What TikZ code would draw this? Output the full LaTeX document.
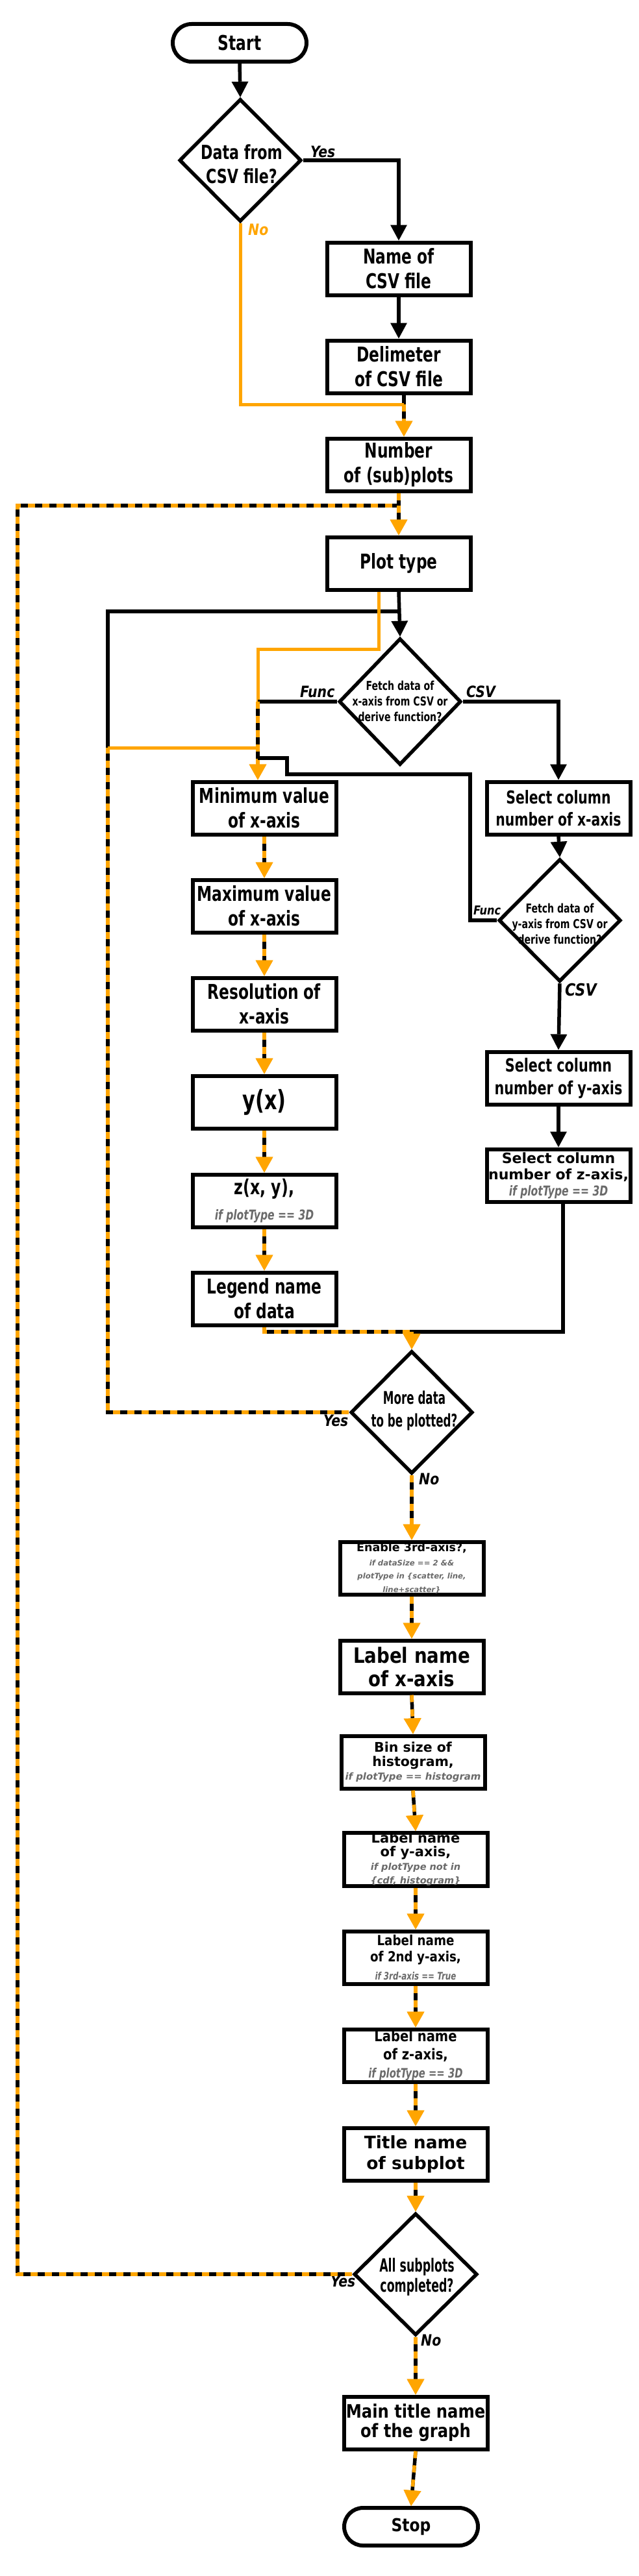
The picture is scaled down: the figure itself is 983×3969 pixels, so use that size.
\documentclass[tikz,border=0pt]{standalone}
\usepackage{fontspec}
\setmainfont{DejaVu Sans}
\newfontfamily\fA{DejaVu Sans}
\newfontfamily\fB[FakeStretch=0.85]{DejaVu Sans}
\newfontfamily\fC[FakeStretch=0.74]{DejaVu Sans}
\newfontfamily\fD[FakeStretch=0.62]{DejaVu Sans}
\newcommand\fsz[2]{\fontsize{#1}{#2}\selectfont}
\usetikzlibrary{arrows.meta,shapes.geometric,calc}
\definecolor{orng}{HTML}{FFA500}
\definecolor{cg}{HTML}{6A6A6A}
\newcommand\condA[2]{{\color{cg}\fA\bfseries\itshape\fsz{#1}{#1}#2}}
\newcommand\condC[2]{{\color{cg}\fC\bfseries\itshape\fsz{#1}{#1}#2}}
\lineskiplimit=-1000pt
\begin{document}
\begin{tikzpicture}[x=1pt,y=-1pt,
  box/.style={draw, line width=6pt, fill=white, minimum width=221pt, minimum height=81pt, inner sep=0pt, align=center},
  term/.style={draw, line width=6pt, fill=white, rounded corners=29pt, minimum width=206pt, minimum height=58pt, inner sep=0pt},
  dia/.style={draw, diamond, line width=5.5pt, fill=white, inner sep=0pt, minimum width=188pt, minimum height=189pt},
  dtext/.style={align=center, inner sep=0pt},
  lab/.style={anchor=base west, inner sep=0pt, font=\fB\bfseries\itshape\fsz{24}{28}},
  bline/.style={draw=black, line width=5.5pt},
  oline/.style={draw=orng, line width=5pt},
  mix/.style={draw=black, line width=5.5pt, postaction={draw=orng, line width=5.5pt, dash pattern=on 11pt off 11pt}},
  btip/.style={-{Triangle[length=24pt,width=26pt,line width=0pt]}},
  otip/.style={-{Triangle[length=24pt,width=27pt,line width=0pt,color=orng,fill=orng]}},
  cf/.style={font=\fC\bfseries\fsz{31.5}{38}}
]
\fill[white] (0,0) rectangle (983,3969);
\useasboundingbox (0,0) rectangle (983,3969);

% nodes
\node[term, font=\fC\bfseries\fsz{31.5}{38}] (start) at (369,66) {Start};
\node[dia] (d1) at (370,247) {};
\node[dtext, font=\fC\bfseries\fsz{30}{37}] (t1) at (372,253) {Data from\\CSV file?};
\node[box, cf] (name) at (614,414) {Name of\\CSV file};
\node[box, cf] (delim) at (614,565) {Delimeter\\of CSV file};
\node[box, cf] (number) at (614,716) {Number\\of (sub)plots};
\node[box, cf] (plottype) at (614,868) {Plot type};
\node[dia, minimum height=195pt] (dx) at (616,1081) {};
\node[dtext, font=\fC\bfseries\fsz{19}{24}] (tx) at (616,1080) {Fetch data of\\x-axis from CSV or\\derive function?};
\node[box, cf] (minx) at (407,1245) {Minimum value\\of x-axis};
\node[box, font=\fC\bfseries\fsz{27.5}{34}] (selx) at (860,1245) {Select column\\number of x-axis};
\node[dia] (dy) at (862,1418) {};
\node[dtext, font=\fC\bfseries\fsz{19}{24}] (ty) at (862,1423) {Fetch data of\\y-axis from CSV or\\derive function?};
\node[box, cf] (maxx) at (407,1396) {Maximum value\\of x-axis};
\node[box, cf] (res) at (407,1547) {Resolution of\\x-axis};
\node[box, font=\fC\bfseries\fsz{41}{48}] (yx) at (407,1698) {y(x)};
\node[box, font=\fC\bfseries\fsz{32}{39}] (zxy) at (407,1850) {z(x, y),\\\condC{21}{if plotType == 3D}};
\node[box, cf] (legend) at (407,2001) {Legend name\\of data};
\node[box, font=\fC\bfseries\fsz{28}{35}] (sely) at (860,1661) {Select column\\number of y-axis};
\node[box, font=\fA\bfseries\fsz{22}{25}] (selz) at (860,1811) {Select column\\number of z-axis,\\\condC{21}{if plotType == 3D}};
\node[dia] (dmore) at (634,2176) {};
\node[dtext, font=\fD\bfseries\fsz{27}{35}] (tm) at (638,2174) {More data\\to be plotted?};
\node[box, font=\fA\bfseries\fsz{17.5}{20.5}] (enable) at (634,2416) {Enable 3rd-axis?,\\[1.5pt]\condA{11.7}{if dataSize == 2 \&\&}\\\condA{11.7}{plotType in \{scatter, line,}\\\condA{11.7}{line+scatter\}}};
\node[box, font=\fB\bfseries\fsz{32.5}{36}] (labx) at (634,2568) {Label name\\of x-axis};
\node[box, font=\fA\bfseries\fsz{20.5}{21.5}] (bin) at (636,2715) {Bin size of\\histogram,\\\condA{14.9}{if plotType == histogram}};
\node[box, font=\fA\bfseries\fsz{21}{21}] (laby) at (640,2865) {Label name\\of y-axis,\\\condA{14.5}{if plotType not in}\\\condA{14.5}{\{cdf, histogram\}}};
\node[box, font=\fB\bfseries\fsz{21.5}{25}] (lab2y) at (640,3016) {Label name\\of 2nd y-axis,\\[2.5pt]\condC{16}{if 3rd-axis == True}};
\node[box, font=\fB\bfseries\fsz{23}{28}] (labz) at (640,3167) {Label name\\of z-axis,\\\condC{20}{if plotType == 3D}};
\node[box, font=\fA\bfseries\fsz{26.5}{32.5}] (title) at (640,3319) {Title name\\of subplot};
\node[dia, minimum width=190pt, minimum height=188pt] (dall) at (640,3504) {};
\node[dtext, font=\fD\bfseries\fsz{28}{31}] (ta) at (642,3508) {All subplots\\completed?};
\node[box, font=\fB\bfseries\fsz{28.5}{30}] (main) at (640,3733) {Main title name\\of the graph};
\node[term, font=\fB\bfseries\fsz{27.5}{33}] (stop) at (633,3893) {Stop};

% labels
\node[lab] (lyes1) at (478,242) {Yes};
\node[lab, text=orng] (lno1) at (382,362) {No};
\node[lab] (lfunc1) at (462,1074) {Func};
\node[lab] (lcsv1) at (718,1074) {CSV};
\node[lab, font=\fB\bfseries\itshape\fsz{19}{22}] (lfunc2) at (729,1409) {Func};
\node[lab, font=\fB\bfseries\itshape\fsz{26}{30}] (lcsv2) at (870,1534) {CSV};
\node[lab] (lyes2) at (498,2197) {Yes};
\node[lab] (lno2) at (645,2287) {No};
\node[lab] (lyes3) at (509,3523) {Yes};
\node[lab] (lno3) at (648,3614) {No};

% junction coordinates
\coordinate (j1) at (622,623);
\coordinate (j2) at (614,779);
\coordinate (ll) at (27,779);
\coordinate (jb) at (614,942);
\coordinate (lb) at (166,942);
\coordinate (lo) at (166,1152);
\coordinate (jo) at (397,1152);
\coordinate (oa) at (583,1000);
\coordinate (ob) at (397,1000);
\coordinate (jf) at (397,1081);
\coordinate (fa) at (724,1193);
\coordinate (fb) at (442,1193);
\coordinate (fc) at (442,1168);
\coordinate (fd) at (397,1168);
\coordinate (cz) at (867,2052);
\coordinate (jm) at (dmore.north |- cz);

% connectors
\draw[bline,btip] (start.south) -- (d1.north);
\draw[bline,btip] (d1.east) -| (name.north);
\draw[bline,btip] (name.south) -- (delim.north);
\draw[bline] (delim.south -| j1) -- (j1);
\draw[oline] (d1.south) |- (j1);
\draw[mix,otip] (j1) -- (number.north -| j1);
\draw[mix] (number.south) -- (j2);
\draw[mix] (dall.west) -- (dall.west -| ll) -- (ll) -- (j2);
\draw[mix,otip] (j2) -- (plottype.north);
\draw[bline,btip] (plottype.south) -- (dx.north);
\draw[bline] (lo) -- (lb) -- (jb);
\draw[oline] (plottype.south -| oa) -- (oa) -- (ob) -- (jf);
\draw[bline] (dx.west) -- (jf);
\draw[mix,otip] (jf) -- (minx.north -| jf);
\draw[oline] (lo) -- (jo);
\draw[bline] (dy.west) -- (dy.west -| fa) -- (fa) -- (fb) -- (fc) -- (fd);
\draw[bline,btip] (dx.east) -| (selx.north);
\draw[bline,btip] (selx.south) -- (dy.north);
\draw[bline,btip] (dy.south) -- (sely.north);
\draw[bline,btip] (sely.south) -- (selz.north);
\draw[bline] (selz.south -| cz) -- (cz) -- (jm);
\foreach \a/\b in {minx/maxx, maxx/res, res/yx, yx/zxy, zxy/legend}
  \draw[mix,otip] (\a.south) -- (\b.north);
\draw[mix] (legend.south) |- (jm);
\draw[mix,otip] (jm) -- (dmore.north);
\draw[mix] (dmore.west) -| (lo);
\foreach \a/\b in {dmore/enable, enable/labx, labx/bin, bin/laby, laby/lab2y, lab2y/labz, labz/title, title/dall, dall/main, main/stop}
  \draw[mix,otip] (\a.south) -- (\b.north);
\end{tikzpicture}
\end{document}
